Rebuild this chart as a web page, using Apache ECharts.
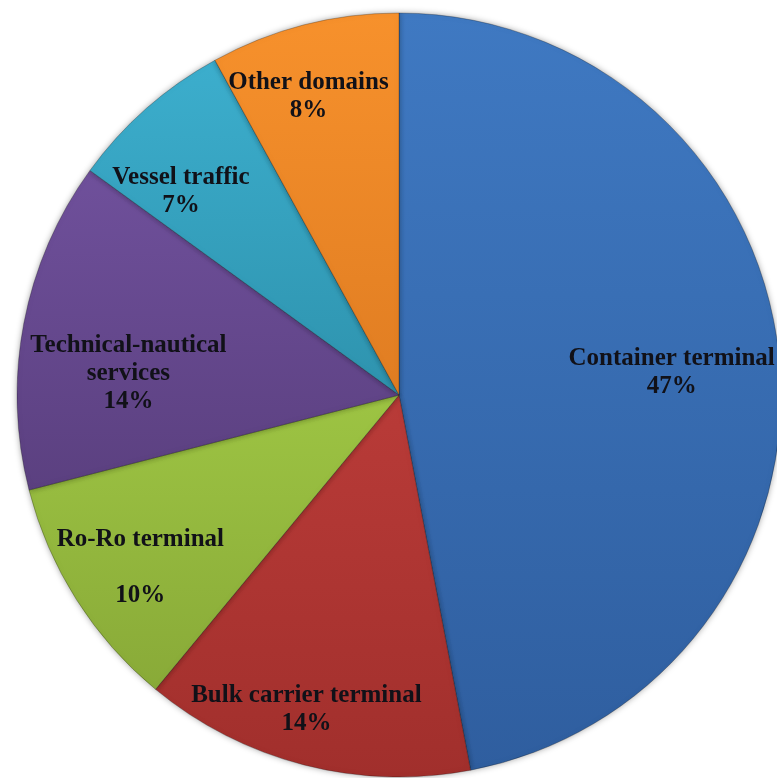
<!DOCTYPE html>
<html>
<head>
<meta charset="utf-8">
<script src="https://cdn.jsdelivr.net/npm/echarts@6/dist/echarts.min.js"></script>
<style>
  html, body { margin: 0; padding: 0; background: #fff; }
  #chart { width: 777px; height: 778px; }
</style>
</head>
<body>
<div id="chart"></div>
<script>
// clockwise from 12 o'clock
const categories = ["Container terminal", "Bulk carrier terminal", "Ro-Ro terminal",
  "Technical-nautical services", "Vessel traffic", "Other domains"];
const shares = [47, 14, 10, 14, 7, 8];

// light / dark end of each slice's shading
const lightColors = ["#3f79c2", "#b93b38", "#9dc443", "#6f509b", "#3caecd", "#f7912c"];
const darkColors = ["#2f5e9f", "#a12f2c", "#89aa38", "#5b4080", "#2e93ae", "#e07d22"];

// nudges so the labels sit where the original put them
const labelNudge = [[-30, 6], [-17, 20], [-2, 10], [28, 36], [-17, 25], [-15, -4]];

const chart = echarts.init(document.getElementById("chart"));

function labelText(p) {
  let name = p.name;
  if (name === "Technical-nautical services") name = "Technical-nautical\nservices";
  if (name === "Ro-Ro terminal") return name + "\n\n" + p.percent + "%";
  return name + "\n" + p.percent + "%";
}

const pieData = categories.map((name, i) => ({
  name: name,
  value: shares[i],
  itemStyle: {
    color: new echarts.graphic.LinearGradient(0, 0, 0, 1, [
      { offset: 0, color: lightColors[i] },
      { offset: 1, color: darkColors[i] }
    ])
  }
}));

chart.setOption({
  animation: false,
  series: [
    {
      type: "pie",
      center: [399, 395],
      radius: [0, 382],
      startAngle: 90,
      clockwise: true,
      silent: true,
      data: pieData,
      itemStyle: {
        borderColor: "rgba(0,0,0,0.25)",
        borderWidth: 1,
        shadowBlur: 6,
        shadowColor: "rgba(0,0,0,0.35)"
      },
      label: { show: false },
      labelLine: { show: false }
    },
    {
      // transparent ring, only used to place the labels further out
      type: "pie",
      center: [399, 395],
      radius: [220, 382],
      startAngle: 90,
      clockwise: true,
      silent: true,
      data: categories.map((name, i) => ({ name: name, value: shares[i] })),
      itemStyle: { color: "transparent" },
      label: {
        show: true,
        position: "inside",
        formatter: labelText,
        fontFamily: "Liberation Serif",
        fontWeight: "bold",
        fontSize: 25,
        lineHeight: 28,
        color: "#111118"
      },
      labelLayout: function (params) {
        const n = labelNudge[params.dataIndex];
        return { dx: n[0], dy: n[1] };
      },
      labelLine: { show: false }
    }
  ]
});
</script>
</body>
</html>
